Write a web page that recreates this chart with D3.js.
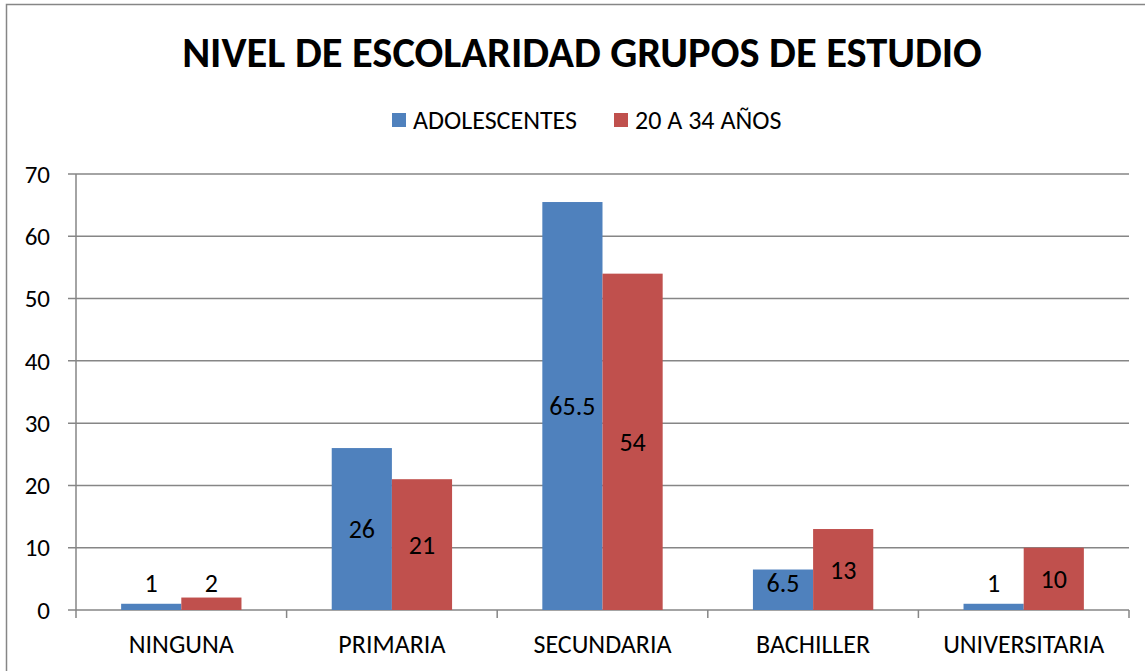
<!DOCTYPE html>
<html>
<head>
<meta charset="utf-8">
<script src="https://cdn.jsdelivr.net/npm/d3@7"></script>
<style>
  body { margin: 0; background: #fff; }
</style>
</head>
<body>
<div class="chart-container"></div>
<script>
// Datos del gráfico
const categories = ['NINGUNA', 'PRIMARIA', 'SECUNDARIA', 'BACHILLER', 'UNIVERSITARIA'];
const seriesNames = ['ADOLESCENTES', '20 A 34 AÑOS'];
const adolescentes = [1, 26, 65.5, 6.5, 1];
const jovenes = [2, 21, 54, 13, 10];
const yTicks = [0, 10, 20, 30, 40, 50, 60, 70];
const title = 'NIVEL DE ESCOLARIDAD GRUPOS DE ESTUDIO';

const width = 1145;
const height = 671;
const margin = { top: 174, right: 16, bottom: 61, left: 76 };
const font = 'Carlito, Lato, sans-serif';

const color = d3.scaleOrdinal()
  .domain(seriesNames)
  .range(['#4F81BD', '#C0504D']);

const rows = categories.map((c, i) => ({
  cat: c,
  values: [
    { s: seriesNames[0], v: adolescentes[i] },
    { s: seriesNames[1], v: jovenes[i] }
  ]
}));

const svg = d3.select('.chart-container')
  .append('svg')
  .attr('width', width)
  .attr('height', height)
  .attr('font-family', font);

// marco exterior
svg.append('rect')
  .attr('x', 6.5).attr('y', 4.5)
  .attr('width', width + 20).attr('height', height + 20)
  .attr('fill', 'none')
  .attr('stroke', '#868686')
  .attr('stroke-width', 1.5);

const x0 = d3.scaleBand()
  .domain(categories)
  .range([margin.left, width - margin.right])
  .paddingInner(0)
  .paddingOuter(0);

const x1 = d3.scaleBand()
  .domain(seriesNames)
  .range([0, x0.bandwidth()])
  .paddingOuter(0.75)
  .paddingInner(0);

const y = d3.scaleLinear()
  .domain([0, 70])
  .range([height - margin.bottom, margin.top]);

// líneas de cuadrícula
svg.append('g')
  .selectAll('line')
  .data(yTicks)
  .join('line')
    .attr('x1', margin.left - 8)
    .attr('x2', width - margin.right)
    .attr('y1', d => y(d))
    .attr('y2', d => y(d))
    .attr('stroke', '#868686')
    .attr('stroke-width', 1.5);

// eje Y
svg.append('line')
  .attr('x1', margin.left).attr('x2', margin.left)
  .attr('y1', y(70)).attr('y2', y(0))
  .attr('stroke', '#868686').attr('stroke-width', 1.5);

svg.append('g')
  .selectAll('text')
  .data(yTicks)
  .join('text')
    .attr('x', margin.left - 26)
    .attr('y', d => y(d))
    .attr('dy', '0.35em')
    .attr('text-anchor', 'end')
    .attr('font-size', '25px')
    .attr('fill', '#000')
    .text(d => d);

// marcas del eje X
const bounds = categories.map(c => x0(c)).concat([x0.range()[1]]);
svg.append('g')
  .selectAll('line')
  .data(bounds)
  .join('line')
    .attr('x1', d => d).attr('x2', d => d)
    .attr('y1', y(0)).attr('y2', y(0) + 8)
    .attr('stroke', '#868686').attr('stroke-width', 1.5);

svg.append('g')
  .selectAll('text')
  .data(categories)
  .join('text')
    .attr('x', d => x0(d) + x0.bandwidth() / 2)
    .attr('y', y(0) + 34)
    .attr('dy', '0.35em')
    .attr('text-anchor', 'middle')
    .attr('font-size', '26px')
    .text(d => d);

// barras
const group = svg.append('g')
  .selectAll('g')
  .data(rows)
  .join('g')
    .attr('transform', d => `translate(${x0(d.cat)},0)`);

group.selectAll('rect')
  .data(d => d.values)
  .join('rect')
    .attr('x', d => x1(d.s))
    .attr('y', d => y(d.v))
    .attr('width', x1.bandwidth())
    .attr('height', d => y(0) - y(d.v))
    .attr('fill', d => color(d.s));

// etiquetas de datos
group.selectAll('text')
  .data(d => d.values)
  .join('text')
    .attr('x', d => x1(d.s) + x1.bandwidth() / 2)
    .attr('y', d => Math.min((y(d.v) + y(0)) / 2, y(0) - 27))
    .attr('dy', '0.35em')
    .attr('text-anchor', 'middle')
    .attr('font-size', '26px')
    .attr('fill', '#000')
    .text(d => d.v);

// título
svg.append('text')
  .attr('x', 582)
  .attr('y', 52)
  .attr('dy', '0.35em')
  .attr('text-anchor', 'middle')
  .attr('font-size', '42.5px')
  .attr('font-weight', 'bold')
  .text(title);

// leyenda
const legendX = [392, 614];
const legend = svg.append('g')
  .selectAll('g')
  .data(seriesNames)
  .join('g')
    .attr('transform', (d, i) => `translate(${legendX[i]},113)`);

legend.append('rect')
  .attr('width', 14)
  .attr('height', 14)
  .attr('fill', color);

legend.append('text')
  .attr('x', 21)
  .attr('y', 7)
  .attr('dy', '0.35em')
  .attr('font-size', '26px')
  .text(d => d);
</script>
</body>
</html>
